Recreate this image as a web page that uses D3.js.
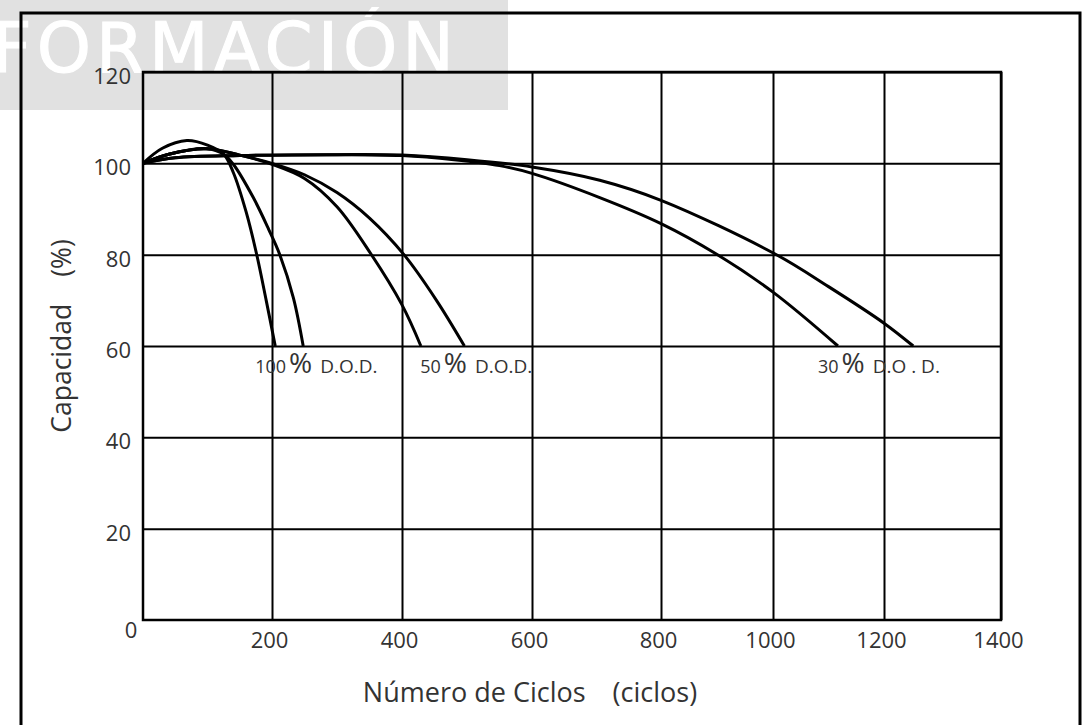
<!DOCTYPE html>
<html>
<head>
<meta charset="utf-8">
<script src="https://cdn.jsdelivr.net/npm/d3@7"></script>
<style>
body { margin: 0; background: #fff; }
</style>
</head>
<body>
<svg id="chart" width="1089" height="725"></svg>
<script>
var xTicks = [0, 200, 400, 600, 800, 1000, 1200, 1400];
var yTicks = [0, 20, 40, 60, 80, 100, 120];

// [ciclos, capacidad %]
var dod100a = [[0,100],[30,103.3],[68,105],[100,104],[125,102],[140,98],[160,89.3],[176,80.2],[191,70],[205,60]];
var dod100b = [[0,100],[40,102],[99,103.2],[125,102],[140,99.8],[171,92.5],[195,85.5],[212,80],[233,70.5],[248,60]];
var dod50a = [[0,100],[40,102],[99,103.2],[150,101.8],[200,99.8],[250,96.7],[300,90.5],[352,80.2],[400,69],[429,60]];
var dod50b = [[0,100],[40,102],[99,103.2],[150,101.8],[200,100],[250,97.5],[300,93.6],[350,88],[403,80],[453,70],[496,60]];
var dod30a = [[0,100],[50,101.2],[150,101.7],[300,101.9],[400,101.7],[480,100.8],[550,99.5],[600,97.8],[705,92.5],[800,86.8],[898,80.2],[1000,71.8],[1117,60]];
var dod30b = [[0,100],[50,101.2],[150,101.7],[300,101.9],[400,101.8],[500,100.8],[600,99.2],[705,96.3],[800,91.9],[1003,80.2],[1100,73],[1200,65],[1250,60]];

var curves = [dod100a, dod100b, dod50a, dod50b, dod30a, dod30b];
// etiquetas: numero, resto, ciclo donde empieza
var labelNums = ["100", "50", "30"];
var labelRest = ["D.O.D.", "D.O.D.", "D.O . D."];
var labelAt = [174, 428, 1081];

var font = "'Open Sans', sans-serif";
var svg = d3.select("#chart");

// marca de agua
svg.append("rect")
  .attr("x", 0).attr("y", 0)
  .attr("width", 508).attr("height", 110)
  .attr("fill", "#e1e1e1");
svg.append("text")
  .attr("x", -8).attr("y", 72)
  .style("font-family", "'DejaVu Sans'")
  .style("font-size", "69px")
  .style("letter-spacing", "5px")
  .style("fill", "#fff")
  .style("stroke", "#fff")
  .style("stroke-width", "1px")
  .text("FORMACIÓN");

// marco exterior
svg.append("rect")
  .attr("x", 21).attr("y", 13)
  .attr("width", 1059).attr("height", 730)
  .attr("fill", "none")
  .attr("stroke", "#000")
  .attr("stroke-width", 3);

var x = d3.scaleLinear()
  .domain(xTicks)
  .range([143, 272, 402, 532, 661, 773, 884, 1001]);
var y = d3.scaleLinear()
  .domain([0, 120])
  .range([620, 72]);

var xAxis = d3.axisBottom(x)
  .tickValues(xTicks.slice(1))
  .tickFormat(d3.format("d"))
  .tickSize(-(y(0) - y(120)))
  .tickSizeOuter(0)
  .tickPadding(12);
var gx = svg.append("g")
  .attr("transform", "translate(0," + y(0) + ")")
  .call(xAxis);

var yAxis = d3.axisLeft(y)
  .tickValues(yTicks.slice(1))
  .tickFormat(d3.format("d"))
  .tickSize(-(x(1400) - x(0)))
  .tickSizeOuter(0)
  .tickPadding(12);
var gy = svg.append("g")
  .attr("transform", "translate(" + x(0) + ",0)")
  .call(yAxis);

[gx, gy].forEach(function(g) {
  g.select(".domain").remove();
  g.selectAll(".tick line").attr("stroke", "#000").attr("stroke-width", 2);
  g.selectAll(".tick text")
    .style("font-family", font)
    .style("font-size", "22px")
    .style("fill", "#333");
});
gx.selectAll(".tick text").attr("dx", -3);
gy.selectAll(".tick text").attr("dy", "0.52em");

svg.append("text")
  .attr("x", x(0) - 12).attr("y", y(0) + 18)
  .attr("text-anchor", "middle")
  .style("font-family", font)
  .style("font-size", "22px")
  .style("fill", "#333")
  .text(yTicks[0]);

// borde del grafico
svg.append("rect")
  .attr("x", x(0)).attr("y", y(120))
  .attr("width", x(1400) - x(0)).attr("height", y(0) - y(120))
  .attr("fill", "none")
  .attr("stroke", "#000")
  .attr("stroke-width", 2.5);

var line = d3.line()
  .x(function(d) { return x(d[0]); })
  .y(function(d) { return y(d[1]); })
  .curve(d3.curveCatmullRom.alpha(0.5));

svg.selectAll("path.curve")
  .data(curves)
  .enter().append("path")
  .attr("class", "curve")
  .attr("d", line)
  .attr("fill", "none")
  .attr("stroke", "#000")
  .attr("stroke-width", 3);

// etiquetas D.O.D.
labelNums.forEach(function(n, i) {
  var t = svg.append("text")
    .attr("x", x(labelAt[i]))
    .attr("y", y(60) + 27)
    .style("font-family", font)
    .style("fill", "#333");
  t.append("tspan").style("font-size", "18px").text(n);
  t.append("tspan").style("font-size", "28px").attr("dx", 3).text("%");
  t.append("tspan").style("font-size", "19px").attr("dx", 8).text(labelRest[i]);
});

// titulos de ejes
var xt = svg.append("text")
  .attr("x", 530).attr("y", 702)
  .attr("text-anchor", "middle")
  .style("font-family", font)
  .style("font-size", "27px")
  .style("fill", "#333");
xt.append("tspan").text("Número de Ciclos");
xt.append("tspan").attr("dx", 27).text("(ciclos)");

var yt = svg.append("text")
  .attr("transform", "translate(71,336) rotate(-90)")
  .attr("text-anchor", "middle")
  .style("font-family", font)
  .style("font-size", "26.5px")
  .style("fill", "#333");
yt.append("tspan").text("Capacidad");
yt.append("tspan").attr("dx", 27).text("(%)");
</script>
</body>
</html>
